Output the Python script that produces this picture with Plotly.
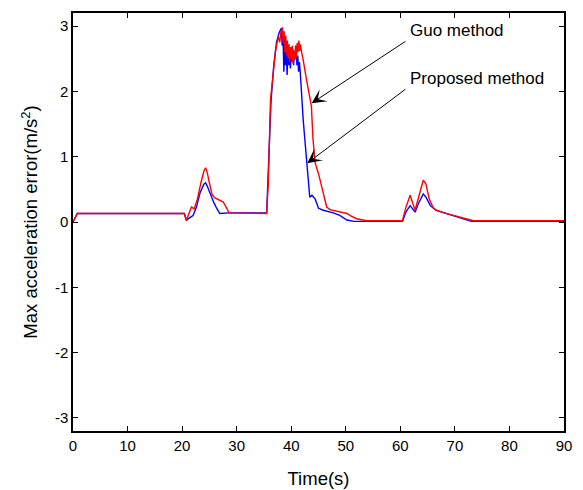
import plotly.graph_objects as go

# Guo method (red) readings: time (s), max acceleration error
guo_t = [0, 0.8, 20.4, 20.8, 21.2, 21.7, 22.2, 22.8, 23.5, 24.0, 24.3, 24.6, 25.0, 25.5, 26.0, 26.5,
         27.0, 27.5, 28.0, 28.6, 35.5, 35.8, 36.2, 36.7, 37.1, 37.6, 37.9,
         38.1, 38.25, 38.4, 38.55, 38.7, 38.85, 39.0, 39.15, 39.3, 39.45, 39.6, 39.75, 39.9, 40.05,
         40.2, 40.35, 40.5, 40.65, 40.8, 40.95, 41.1, 41.25, 41.4, 41.55, 41.7, 41.9, 42.2,
         42.8, 43.4, 43.7, 44.0, 44.4, 45.0, 45.6, 46.5, 47.1, 48.5, 50.2, 51.0, 52.0, 53.8, 60.4,
         61.0, 61.8, 62.7, 63.3, 64.2, 64.7, 65.3, 66.0, 66.6, 68.0, 70.0, 70.9, 72.0, 73.4, 90.0]
guo_v = [0.0, 0.13, 0.13, 0.02, 0.12, 0.23, 0.20, 0.35, 0.62, 0.78, 0.83, 0.76, 0.60, 0.42, 0.37, 0.35,
         0.33, 0.31, 0.24, 0.14, 0.13, 0.60, 1.87, 2.33, 2.60, 2.84, 2.75,
         2.90, 2.95, 2.98, 2.75, 2.92, 2.60, 2.85, 2.55, 2.78, 2.50, 2.72, 2.45, 2.68, 2.50,
         2.70, 2.42, 2.62, 2.48, 2.70, 2.52, 2.74, 2.60, 2.78, 2.62, 2.72, 2.60, 2.48,
         2.18, 1.90, 1.77, 1.26, 0.90, 0.74, 0.52, 0.23, 0.19, 0.16, 0.13, 0.09, 0.05, 0.02, 0.02,
         0.22, 0.41, 0.18, 0.35, 0.64, 0.58, 0.35, 0.22, 0.18, 0.14, 0.10, 0.08, 0.05, 0.02, 0.02]

# Proposed method (blue) readings
prop_t = [0, 0.8, 20.4, 20.8, 21.3, 22.0, 22.6, 23.3, 24.0, 24.3, 24.6, 25.2, 25.8, 26.4, 26.9,
          28.6, 35.5, 35.9, 36.3, 36.8, 37.3, 37.8, 38.0, 38.2, 38.35, 38.5, 38.65, 38.8, 38.95,
          39.1, 39.25, 39.4, 39.55, 39.7, 39.85, 40.0, 40.15, 40.3, 40.45, 40.6, 40.75, 40.9, 41.05,
          41.2, 41.35, 41.5, 41.65, 41.9, 42.2, 42.5, 42.8, 43.1, 43.4, 43.8,
          44.4, 45.0, 45.9, 47.7, 48.9, 50.2, 51.5, 60.4, 61.0, 61.8, 62.7, 63.3, 64.2, 64.7, 65.5,
          66.5, 68.5, 70.0, 71.7, 73.0, 90.0]
prop_v = [0.0, 0.13, 0.13, 0.03, 0.06, 0.10, 0.22, 0.45, 0.58, 0.60, 0.55, 0.42, 0.30, 0.20, 0.13,
          0.14, 0.14, 1.00, 1.85, 2.40, 2.75, 2.90, 2.95, 2.97, 2.70, 2.85, 2.30, 2.70, 2.40,
          2.60, 2.25, 2.65, 2.40, 2.62, 2.35, 2.60, 2.45, 2.65, 2.40, 2.62, 2.50, 2.60, 2.40,
          2.55, 2.30, 2.45, 2.30, 1.92, 1.56, 1.26, 0.95, 0.64, 0.38, 0.41,
          0.35, 0.21, 0.18, 0.14, 0.10, 0.03, 0.01, 0.01, 0.15, 0.25, 0.15, 0.28, 0.43, 0.38, 0.25,
          0.18, 0.13, 0.09, 0.05, 0.01, 0.01]

x_ticks = [0, 10, 20, 30, 40, 50, 60, 70, 80, 90]
y_ticks = [-3, -2, -1, 0, 1, 2, 3]
y_tick_text = ["-3", "-2", "-1", "0", "1", "2", "3"]

fig = go.Figure()
fig.add_trace(go.Scatter(x=prop_t, y=prop_v, mode="lines", line=dict(color="#0000ff", width=1.4),
                         name="Proposed method"))
fig.add_trace(go.Scatter(x=guo_t, y=guo_v, mode="lines", line=dict(color="#ff0000", width=1.4),
                         name="Guo method"))

font_family = "Liberation Sans, Arial, sans-serif"

fig.add_annotation(x=61.4, y=2.93, xref="x", yref="y", text="Guo method", showarrow=False,
                   xanchor="left", yanchor="middle", font=dict(size=17, color="black", family=font_family))
fig.add_annotation(x=61.4, y=2.19, xref="x", yref="y", text="Proposed method", showarrow=False,
                   xanchor="left", yanchor="middle", font=dict(size=17, color="black", family=font_family))
fig.add_annotation(x=43.75, y=1.82, ax=61.2, ay=2.78, xref="x", yref="y", axref="x", ayref="y",
                   text="", showarrow=True, arrowhead=3, arrowsize=2.4, arrowwidth=1, arrowcolor="black")
fig.add_annotation(x=42.94, y=0.90, ax=61.2, ay=2.05, xref="x", yref="y", axref="x", ayref="y",
                   text="", showarrow=True, arrowhead=3, arrowsize=2.4, arrowwidth=1, arrowcolor="black")

axis_common = dict(showgrid=False, zeroline=False, showline=True, linecolor="black", linewidth=1.5,
                   mirror="allticks", ticks="inside", ticklen=5, tickwidth=1, tickcolor="black",
                   automargin=False,
                   tickfont=dict(size=15, color="black", family=font_family))

fig.update_xaxes(range=[0, 90], tickvals=x_ticks, title=dict(text="Time(s)", standoff=19,
                 font=dict(size=18.5, color="black", family=font_family)), **axis_common)
fig.update_yaxes(range=[-3.2, 3.2], tickvals=y_ticks, ticktext=y_tick_text,
                 title=dict(text="Max acceleration error(m/s<sup>2</sup>)", standoff=12,
                            font=dict(size=18.5, color="black", family=font_family)), **axis_common)

fig.update_layout(width=583, height=490, margin=dict(l=73, r=19, t=13, b=59),
                  plot_bgcolor="white", paper_bgcolor="white", showlegend=False)

fig.write_html("out.html")
